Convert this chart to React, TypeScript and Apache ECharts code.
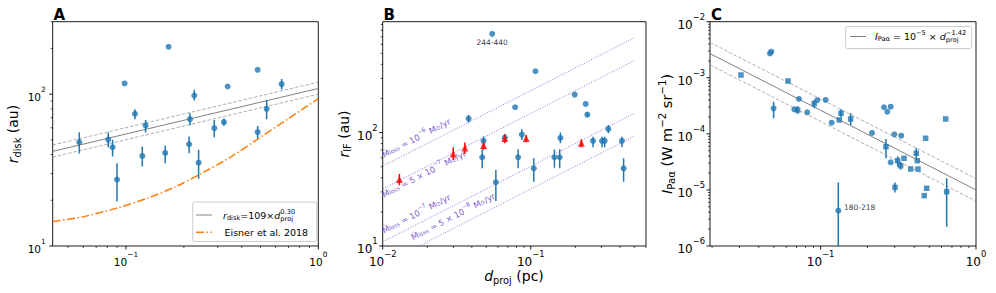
import React, { useEffect, useRef } from 'react';
import * as echarts from 'echarts';

const FONT = 'DejaVu Sans';
const BLUE = '#1f77b4';
const RED = '#ff0000';
const ORANGE = '#ff7f0e';
const PURPLE = '#9370db';
const LABELPURPLE = '#8159cc';
const FITGRAY = '#808080';
const BANDGRAY = '#9a9a9a';

// ---------- Panel A : r_disk vs d_proj ----------
// [d_proj (pc), r_disk (au), error low, error high]
const diskPoints: (number | null)[][] = [
  [0.0572, 48.3, 40.6, 56.2],
  [0.0809, 50.2, 44.7, 56.0],
  [0.0852, 44.7, 38.8, 50.0],
  [0.0898, 27.4, 19.6, 35.1],
  [0.0984, 117.6, null, null],
  [0.1114, 74.2, 68.4, 79.6],
  [0.1216, 39.2, 33.4, 45.2],
  [0.1265, 62.2, 55.9, 67.7],
  [0.16, 41.0, 35.1, 45.9],
  [0.1666, 205, null, null],
  [0.2152, 68.4, 62.5, 74.9],
  [0.213, 46.8, 40.8, 52.6],
  [0.2266, 98.0, 90.8, 106.8],
  [0.2386, 35.4, 27.7, 43.0],
  [0.2879, 59.7, 52.1, 67.7],
  [0.3232, 65.4, 62.0, 69.0],
  [0.3378, 112.3, null, null],
  [0.4838, 144.6, null, null],
  [0.4838, 56.2, 51.3, 61.8],
  [0.5387, 80.0, 68.4, 91.8],
  [0.6447, 116.4, 107.9, 125.6],
];
const diskFitCoef = 109;
const diskFitCoefHi = 120;
const diskFitCoefLo = 100;
const diskFitSlope = 0.3;
const eisnerD = [0.0416, 0.06, 0.09, 0.13, 0.18, 0.25, 0.35, 0.5, 0.7, 1.0];
const eisnerR = [14.5, 15.6, 17.8, 20.7, 24.5, 30.3, 38.5, 52, 69, 93.6];

// ---------- Panel B : r_IF vs d_proj ----------
const ifPoints: (number | null)[][] = [
  [0.038, 132.9, 123, 143],
  [0.0549, 742, null, null],
  [0.048, 84.4, 77.8, 92.2],
  [0.047, 60.6, 48.4, 71.3],
  [0.0581, 36.5, 24.9, 46.8],
  [0.0668, 90.3, 84, 97],
  [0.0784, 167.3, null, null],
  [0.0821, 60.6, 48.4, 71.3],
  [0.087, 96.0, 86.1, 107],
  [0.1048, 48.4, 36.9, 59.4],
  [0.1075, 347.5, null, null],
  [0.1444, 60.6, 49, 71],
  [0.1568, 60.6, 48.4, 71.3],
  [0.1585, 89.7, 80.5, 100],
  [0.198, 216, null, null],
  [0.2349, 179, null, null],
  [0.241, 144, 137, 151],
  [0.2632, 84.4, 74.2, 92],
  [0.3027, 84.4, 74.2, 92],
  [0.3155, 84.4, 74.2, 92],
  [0.334, 107.7, 98.6, 116.9],
  [0.4128, 84.4, 74.2, 92],
  [0.4236, 48.4, 36.9, 59.4],
];
const ifLimits: number[][] = [
  [0.01296, 38.5, 34.3, 43.2],
  [0.02996, 64.8, 57.4, 74.2],
  [0.0359, 73.2, 64.8, 81.6],
  [0.048, 76.8, 70.4, 86.1],
  [0.0668, 88.5, 80.5, 97.3],
  [0.093, 88.5, 82, 95],
  [0.2196, 80.5, 74.2, 87.3],
];
const ifNoteIndex = 1;
const ifNoteText = '244-440';
const mdotValues = [1e-6, 5e-7, 1e-7, 5e-8];
const mdotMantissa = ['', '5 × ', '', '5 × '];
const mdotExponent = ['−6', '−7', '−7', '−8'];
const mdotLabelD = [0.01036, 0.01036, 0.01036, 0.01626];
const mdotLabelR = [58.2, 25.9, 12.5, 10.9];
const mdotRefR = 50.5; // r_IF (au) at d = 0.01 pc for 1e-6 Msun/yr
const mdotRefD = 0.01;
const mdotSlope = 2 / 3;
const mdotLineD = [0.01, 0.5];

// ---------- Panel C : I_Pa-alpha vs d_proj ----------
const paCircles: (number | null)[][] = [
  [0.0472, 2.72e-3, null, null],
  [0.0481, 2.92e-3, null, null],
  [0.0498, 2.85e-4, 1.89e-4, 3.75e-4],
  [0.0677, 2.73e-4, null, null],
  [0.0725, 4.19e-4, null, null],
  [0.082, 2.42e-4, null, null],
  [0.0952, 4.01e-4, null, null],
  [0.1077, 4.02e-4, null, null],
  [0.1177, 1.58e-4, null, null],
  [0.1299, 4.27e-6, 1e-7, 1.35e-5],
  [0.214, 1.04e-4, null, null],
  [0.2557, 2.98e-4, null, null],
  [0.2823, 3.05e-4, null, null],
  [0.2685, 2.48e-4, null, null],
  [0.2823, 3.11e-5, null, null],
  [0.298, 9.8e-5, null, null],
  [0.33, 9.27e-5, null, null],
];
const paSquares: (number | null)[][] = [
  [0.0307, 1.12e-3, null, null],
  [0.0617, 8.75e-4, null, null],
  [0.0711, 2.66e-4, 2.26e-4, 3.13e-4],
  [0.0909, 3.45e-4, 2.85e-4, 4.0e-4],
  [0.1318, 1.77e-4, null, null],
  [0.1351, 2.33e-4, 2.0e-4, 2.75e-4],
  [0.156, 1.84e-4, 1.44e-4, 2.32e-4],
  [0.2633, 5.9e-5, 3.66e-5, 8.1e-5],
  [0.301, 1.11e-5, 9.0e-6, 1.35e-5],
  [0.3133, 3.32e-5, 2.6e-5, 4.0e-5],
  [0.3273, 2.7e-5, 2.3e-5, 3.1e-5],
  [0.344, 3.66e-5, null, null],
  [0.3798, 2.36e-5, null, null],
  [0.4127, 4.5e-5, 3.66e-5, 5.6e-5],
  [0.4188, 3.32e-5, null, null],
  [0.423, 2.36e-5, null, null],
  [0.4646, 7.9e-6, null, null],
  [0.474, 8.34e-5, null, null],
  [0.4815, 1.07e-5, null, null],
  [0.638, 1.84e-4, null, null],
  [0.6475, 9.3e-6, 2.2e-6, 1.61e-5],
];
const paNoteIndex = 9;
const paNoteText = '180-218';
const paFitCoef = 1e-5;
const paFitSlope = -1.42;
const paBandDex = 0.2;

// ---------- axes ----------
const xRanges = [[0.0416, 1], [0.01, 0.6], [0.0194, 1]];
const yRanges = [[10, 300], [10, 950], [1e-6, 1e-2]];
const grids = [
  { left: 52.7, top: 21.7, width: 265.6, height: 224.3 },
  { left: 382.7, top: 21.7, width: 263.3, height: 224.3 },
  { left: 710, top: 21.7, width: 266, height: 224.3 },
];
const tickFont = [10.5, 12, 12];

// ---------- helpers ----------
type Seg = { t: string; s: number; it?: boolean; b?: boolean; dy?: number; stack?: boolean };
let ctx: CanvasRenderingContext2D | null = null;
const fontOf = (g: Seg) => `${g.it ? 'italic ' : ''}${g.b ? 'bold ' : ''}${g.s}px "${FONT}"`;
function measure(g: Seg) {
  if (!ctx) ctx = document.createElement('canvas').getContext('2d');
  ctx!.font = fontOf(g);
  return ctx!.measureText(g.t).width;
}
function mathText(segs: Seg[], x: number, y: number, o: { center?: boolean; rot?: number; color?: string } = {}) {
  const main = segs[0].s;
  let cx = 0, px = 0, pw = 0;
  const kids: any[] = [];
  for (const g of segs) {
    const w = measure(g);
    let sx = cx;
    if (g.stack) { sx = px; cx = px + Math.max(pw, w); } else { cx = sx + w; }
    kids.push({
      type: 'text', x: sx, y: (g.dy || 0) - 0.35 * g.s, z: 100,
      style: { text: g.t, font: fontOf(g), fill: o.color || '#000', textAlign: 'left', textVerticalAlign: 'middle' },
    });
    px = sx; pw = w;
  }
  const ox = o.center ? -cx / 2 : 0;
  const oy = o.center ? 0.35 * main : 0;
  kids.forEach((k) => { k.x += ox; k.y += oy; });
  return { type: 'group', x, y, rotation: o.rot || 0, z: 100, children: kids };
}
function logTicks(min: number, max: number) {
  const out: [number, boolean][] = [];
  for (let e = Math.floor(Math.log10(min)); e <= Math.ceil(Math.log10(max)); e++) {
    for (let m = 1; m <= 9; m++) {
      const v = m * Math.pow(10, e);
      if (v >= min * (1 - 1e-9) && v <= max * (1 + 1e-9)) out.push([v, m === 1]);
    }
  }
  return out;
}
const powLabel = (v: number) => {
  const l = Math.log10(v);
  const e = Math.round(l);
  if (Math.abs(l - e) > 1e-6) return '';
  return `{b|10}{s|${e < 0 ? '−' + -e : e}}`;
};
const labelRich = (fs: number) => ({
  b: { fontSize: fs, lineHeight: Math.round(fs * 1.5), verticalAlign: 'bottom', fontFamily: FONT, color: '#000' },
  s: { fontSize: fs * 0.7, lineHeight: Math.round(fs * 0.75), verticalAlign: 'top', fontFamily: FONT, color: '#000' },
});

function tickSeries(i: number) {
  const [x0, x1] = xRanges[i];
  const [y0, y1] = yRanges[i];
  const data: number[][] = [];
  logTicks(x0, x1).forEach(([v, major]) => data.push([v, y0, major ? 1 : 0]));
  logTicks(y0, y1).forEach(([v, major]) => data.push([x0, v, major ? 3 : 2]));
  return {
    type: 'custom', xAxisIndex: i, yAxisIndex: i, clip: false, silent: true, z: 20,
    encode: { x: 0, y: 1 },
    data,
    renderItem: (_p: any, api: any) => {
      const kind = api.value(2);
      const p = api.coord([api.value(0), api.value(1)]);
      const major = kind === 1 || kind === 3;
      const len = major ? 3.5 : 2;
      const shape = kind < 2
        ? { x1: p[0], y1: p[1], x2: p[0], y2: p[1] + len }
        : { x1: p[0] - len, y1: p[1], x2: p[0], y2: p[1] };
      return { type: 'line', shape, style: { stroke: '#000', lineWidth: major ? 0.9 : 0.7 } };
    },
  };
}
function errSeries(i: number, pts: (number | null)[][], color: string) {
  return {
    type: 'custom', xAxisIndex: i, yAxisIndex: i, clip: true, silent: true, z: 3,
    encode: { x: 0, y: [1, 2] },
    data: pts.filter((p) => p[2] != null).map((p) => [p[0], p[2], p[3]]),
    renderItem: (_p: any, api: any) => {
      const a = api.coord([api.value(0), api.value(1)]);
      const b = api.coord([api.value(0), api.value(2)]);
      return { type: 'line', shape: { x1: a[0], y1: a[1], x2: b[0], y2: b[1] }, style: { stroke: color, lineWidth: 1.5 } };
    },
  };
}
function lineSeries(i: number, data: number[][], color: string, width: number, type: any, z = 2, smooth: any = false) {
  return {
    type: 'line', xAxisIndex: i, yAxisIndex: i, data, symbol: 'none', showSymbol: false, silent: true, z, smooth,
    lineStyle: { color, width, type },
  };
}
function powerLine(i: number, coef: number, slope: number) {
  const [x0, x1] = xRanges[i];
  return [[x0, coef * Math.pow(x0, slope)], [x1, coef * Math.pow(x1, slope)]];
}

function buildOption() {
  const series: any[] = [];
  // Panel A
  series.push(tickSeries(0));
  series.push(lineSeries(0, powerLine(0, diskFitCoefHi, diskFitSlope), BANDGRAY, 0.8, [3.5, 1.8]));
  series.push(lineSeries(0, powerLine(0, diskFitCoefLo, diskFitSlope), BANDGRAY, 0.8, [3.5, 1.8]));
  series.push(lineSeries(0, powerLine(0, diskFitCoef, diskFitSlope), FITGRAY, 1, 'solid'));
  series.push(lineSeries(0, eisnerD.map((d, k) => [d, eisnerR[k]]), ORANGE, 1.5, [8, 2.5, 1.5, 2.5], 2, 0.3));
  series.push(errSeries(0, diskPoints, BLUE));
  series.push({
    type: 'scatter', xAxisIndex: 0, yAxisIndex: 0, symbol: 'circle', symbolSize: 6, z: 4, silent: true,
    itemStyle: { color: BLUE }, data: diskPoints.map((p) => [p[0], p[1]]),
  });

  // Panel B
  series.push(tickSeries(1));
  const xDec = grids[1].width / Math.log10(xRanges[1][1] / xRanges[1][0]);
  const yDec = grids[1].height / Math.log10(yRanges[1][1] / yRanges[1][0]);
  const ang = (Math.atan((mdotSlope * yDec) / xDec) * 180) / Math.PI;
  mdotValues.forEach((m) => {
    const k = mdotRefR * Math.pow(m / 1e-6, mdotSlope);
    series.push(lineSeries(1, mdotLineD.map((d) => [d, k * Math.pow(d / mdotRefD, mdotSlope)]), PURPLE, 1, [1, 1.6], 1));
  });
  const lp = { color: LABELPURPLE, fontFamily: FONT, textBorderWidth: 0, opacity: 1 };
  series.push({
    type: 'scatter', xAxisIndex: 1, yAxisIndex: 1, symbolSize: 1, z: 5, silent: true,
    itemStyle: { color: 'rgba(0,0,0,0)' },
    data: mdotValues.map((_, k) => ({
      value: [mdotLabelD[k], mdotLabelR[k]],
      label: {
        show: true, position: [0, 0], align: 'left', verticalAlign: 'bottom', rotate: ang,
        color: LABELPURPLE, textBorderWidth: 0, opacity: 1,
        formatter: `{n|Ṁ}{sub|loss}{n| = ${mdotMantissa[k]}10}{sup|${mdotExponent[k]}}{n| M}{sub|⊙}{n|/yr}`,
        rich: {
          n: { ...lp, fontSize: 8.3, lineHeight: 11, verticalAlign: 'bottom' },
          sub: { ...lp, fontSize: 5.8, lineHeight: 6, verticalAlign: 'bottom' },
          sup: { ...lp, fontSize: 5.8, lineHeight: 6, verticalAlign: 'top' },
        },
      },
    })),
  });
  series.push(errSeries(1, ifPoints, BLUE));
  series.push(errSeries(1, ifLimits, RED));
  series.push({
    type: 'scatter', xAxisIndex: 1, yAxisIndex: 1, symbol: 'circle', symbolSize: 6, z: 4, silent: true,
    itemStyle: { color: BLUE },
    data: ifPoints.map((p, k) =>
      k === ifNoteIndex
        ? { value: [p[0], p[1]], label: { show: true, formatter: ifNoteText, position: 'bottom', distance: 1.5, fontSize: 7.5, color: '#000', fontFamily: FONT } }
        : [p[0], p[1]]),
  });
  series.push({
    type: 'scatter', xAxisIndex: 1, yAxisIndex: 1, symbol: 'triangle', symbolSize: 7, z: 4, silent: true,
    itemStyle: { color: RED }, data: ifLimits.map((p) => [p[0], p[1]]),
  });

  // Panel C
  series.push(tickSeries(2));
  const band = Math.pow(10, paBandDex);
  series.push(lineSeries(2, powerLine(2, paFitCoef * band, paFitSlope), BANDGRAY, 0.8, [3.5, 1.8]));
  series.push(lineSeries(2, powerLine(2, paFitCoef / band, paFitSlope), BANDGRAY, 0.8, [3.5, 1.8]));
  series.push(lineSeries(2, powerLine(2, paFitCoef, paFitSlope), FITGRAY, 1, 'solid'));
  series.push(errSeries(2, paCircles, BLUE));
  series.push(errSeries(2, paSquares, BLUE));
  series.push({
    type: 'scatter', xAxisIndex: 2, yAxisIndex: 2, symbol: 'circle', symbolSize: 6, z: 4, silent: true,
    itemStyle: { color: BLUE },
    data: paCircles.map((p, k) =>
      k === paNoteIndex
        ? { value: [p[0], p[1]], label: { show: true, formatter: paNoteText, position: 'right', distance: 2.6, offset: [0, -3.4], fontSize: 7.5, color: '#000', fontFamily: FONT } }
        : [p[0], p[1]]),
  });
  series.push({
    type: 'scatter', xAxisIndex: 2, yAxisIndex: 2, symbol: 'rect', symbolSize: 5.5, z: 4, silent: true,
    itemStyle: { color: BLUE }, data: paSquares.map((p) => [p[0], p[1]]),
  });

  const sub = (t: string, s = 9.8, dy = 3): Seg => ({ t, s, dy });
  const graphic: any[] = [
    mathText([{ t: 'A', s: 15, b: true }], 53.5, 20.5),
    mathText([{ t: 'B', s: 15, b: true }], 383.5, 20.5),
    mathText([{ t: 'C', s: 15, b: true }], 711, 20.5),
    mathText([{ t: 'r', s: 14, it: true }, sub('disk'), { t: ' (au)', s: 14 }], 13, 134, { center: true, rot: Math.PI / 2 }),
    mathText([{ t: 'r', s: 14, it: true }, sub('IF'), { t: ' (au)', s: 14 }], 343.5, 134, { center: true, rot: Math.PI / 2 }),
    mathText([{ t: 'd', s: 14, it: true }, sub('proj'), { t: ' (pc)', s: 14 }], 514, 276, { center: true }),
    mathText([
      { t: 'I', s: 14.5, it: true }, sub('Paα', 10.2, 3), { t: ' (W m', s: 14.5 }, { t: '−2', s: 10.2, dy: -6 },
      { t: ' sr', s: 14.5 }, { t: '−1', s: 10.2, dy: -6 }, { t: ')', s: 14.5 },
    ], 666.5, 134, { center: true, rot: Math.PI / 2 }),
    // legend A
    { type: 'rect', z: 90, shape: { x: 192.7, y: 202, width: 124, height: 39.5, r: 2 }, style: { fill: 'rgba(255,255,255,0.85)', stroke: '#cccccc', lineWidth: 1 } },
    { type: 'line', z: 95, shape: { x1: 196, y1: 215, x2: 212, y2: 215 }, style: { stroke: FITGRAY, lineWidth: 1 } },
    { type: 'line', z: 95, shape: { x1: 196, y1: 232.3, x2: 212, y2: 232.3 }, style: { stroke: ORANGE, lineWidth: 1.5, lineDash: [8, 2.5, 1.5, 2.5] } },
    mathText([
      { t: 'r', s: 9.5, it: true }, { t: 'disk', s: 6.65, dy: 2 }, { t: '=109×', s: 9.5 },
      { t: 'd', s: 9.5, it: true }, { t: 'proj', s: 6.65, dy: 2.5 }, { t: '0.30', s: 6.65, dy: -4, stack: true },
    ], 223, 218.5),
    mathText([{ t: 'Eisner et al. 2018', s: 9.5 }], 224.5, 235.6),
    // legend C
    { type: 'rect', z: 90, shape: { x: 845.7, y: 26.5, width: 126, height: 22, r: 2 }, style: { fill: 'rgba(255,255,255,0.85)', stroke: '#cccccc', lineWidth: 1 } },
    { type: 'line', z: 95, shape: { x1: 850, y1: 36.5, x2: 866, y2: 36.5 }, style: { stroke: FITGRAY, lineWidth: 1 } },
    mathText([
      { t: 'I', s: 9.5, it: true }, { t: 'Paα', s: 6.65, dy: 2 }, { t: ' = 10', s: 9.5 }, { t: '−5', s: 6.65, dy: -4 },
      { t: ' × ', s: 9.5 }, { t: 'd', s: 9.5, it: true }, { t: 'proj', s: 6.65, dy: 2.5 }, { t: '−1.42', s: 6.65, dy: -4, stack: true },
    ], 875, 39.8),
  ];

  return {
    animation: false,
    backgroundColor: '#ffffff',
    textStyle: { fontFamily: FONT },
    grid: grids.map((g) => ({ ...g, show: true, borderColor: '#000', borderWidth: 0.9, backgroundColor: 'transparent', containLabel: false, outerBoundsMode: 'none' })),
    xAxis: [0, 1, 2].map((i) => ({
      type: 'log', logBase: 10, gridIndex: i, min: xRanges[i][0], max: xRanges[i][1],
      axisLine: { show: false }, axisTick: { show: false }, splitLine: { show: false }, minorTick: { show: false },
      axisLabel: { formatter: powLabel, rich: labelRich(tickFont[i]), margin: i === 0 ? 5 : 3.5, color: '#000' },
    })),
    yAxis: [0, 1, 2].map((i) => ({
      type: 'log', logBase: 10, gridIndex: i, min: yRanges[i][0], max: yRanges[i][1],
      axisLine: { show: false }, axisTick: { show: false }, splitLine: { show: false }, minorTick: { show: false },
      axisLabel: { formatter: powLabel, rich: labelRich(tickFont[i]), margin: i === 0 ? 7 : 5, color: '#000' },
    })),
    series,
    graphic,
  };
}

export default function App() {
  const ref = useRef<HTMLDivElement>(null);
  useEffect(() => {
    const chart = echarts.init(ref.current!, null, { renderer: 'svg' });
    chart.setOption(buildOption() as any);
    return () => chart.dispose();
  }, []);
  return <div ref={ref} style={{ position: 'absolute', left: 0, top: 0, width: 996, height: 293, background: '#fff' }} />;
}
